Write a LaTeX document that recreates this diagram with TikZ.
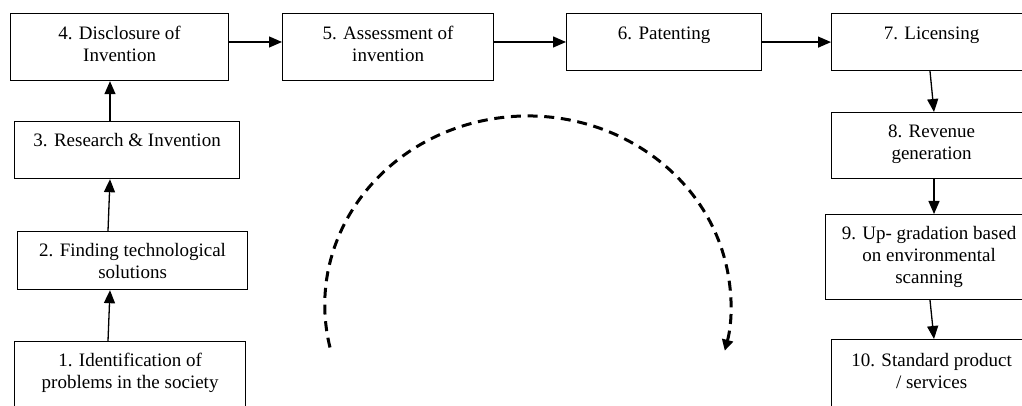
\documentclass[tikz,border=0pt]{standalone}
\usepackage{fontspec}
\setmainfont{Liberation Serif}
\usetikzlibrary{arrows.meta}
\begin{document}
\begin{tikzpicture}[x=1pt,y=1pt,
  box/.style={draw, line width=1.2pt, anchor=north west, inner sep=0pt},
  lbl/.style={align=center, anchor=base, inner sep=0pt, font=\fontsize{19}{22}\selectfont},
  conn/.style={line width=1.3pt, -{Triangle[length=13pt,width=11pt]}},
  loop/.style={line width=3pt, dash pattern=on 10pt off 6.7pt, -{Triangle[length=11pt,width=11pt]}}]
\path[use as bounding box, clip] (0,0) rectangle (1022,406);
% boxes
\node[box, minimum width=218, minimum height=67] (b4) at (10,393) {};
\node[box, minimum width=211, minimum height=67] (b5) at (282,393) {};
\node[box, minimum width=195, minimum height=57] (b6) at (566,393) {};
\node[box, minimum width=200, minimum height=57] (b7) at (831,393) {};
\node[box, minimum width=225, minimum height=57] (b3) at (14,285) {};
\node[box, minimum width=230, minimum height=58] (b2) at (17,175) {};
\node[box, minimum width=231, minimum height=80] (b1) at (14,65) {};
\node[box, minimum width=200, minimum height=66] (b8) at (831,294) {};
\node[box, minimum width=207, minimum height=85] (b9) at (825,192) {};
\node[box, minimum width=200, minimum height=80] (b10) at (831,67) {};
% labels (base anchor = baseline of the last line)
\node[lbl] (t4) at ([yshift=-49]b4.north) {4. Disclosure of\\Invention};
\node[lbl] (t5) at ([yshift=-49]b5.north) {5. Assessment of\\invention};
\node[lbl] (t6) at ([yshift=-27]b6.north) {6. Patenting};
\node[lbl] (t7) at ([yshift=-27]b7.north) {7. Licensing};
\node[lbl] (t3) at ([yshift=-26]b3.north) {3. Research \& Invention};
\node[lbl] (t2) at ([yshift=-48]b2.north) {2. Finding technological\\solutions};
\node[lbl] (t1) at ([yshift=-48]b1.north) {1. Identification of\\problems in the society};
\node[lbl] (t8) at ([yshift=-48]b8.north) {8. Revenue\\generation};
\node[lbl] (t9) at ([yshift=-70]b9.north) {9. Up- gradation based\\on environmental\\scanning};
\node[lbl] (t10) at ([yshift=-50]b10.north) {10. Standard product\\/ services};
% connectors
\draw[conn] ([xshift=94]b1.north west) -- ([xshift=93]b2.south west);
\draw[conn] ([xshift=91]b2.north west) -- ([xshift=96]b3.south west);
\draw[conn] ([xshift=96]b3.north west) -- ([xshift=100]b4.south west);
\draw[conn] ([yshift=-29]b4.north east) -- ([yshift=-29]b5.north west);
\draw[conn] ([yshift=-29]b5.north east) -- ([yshift=-29]b6.north west);
\draw[conn] (b6.east) -- (b7.west);
\draw[conn] ([xshift=99]b7.south west) -- ([xshift=103]b8.north west);
\draw[conn] ([xshift=103]b8.south west) -- ([xshift=109]b9.north west);
\draw[conn] ([xshift=105]b9.south west) -- ([xshift=103]b10.north west);
% dashed loop
\coordinate (ls) at (330,58.5);
\draw[loop] (ls) arc[start angle=193, end angle=-14, x radius=203, y radius=189];
\end{tikzpicture}
\end{document}
